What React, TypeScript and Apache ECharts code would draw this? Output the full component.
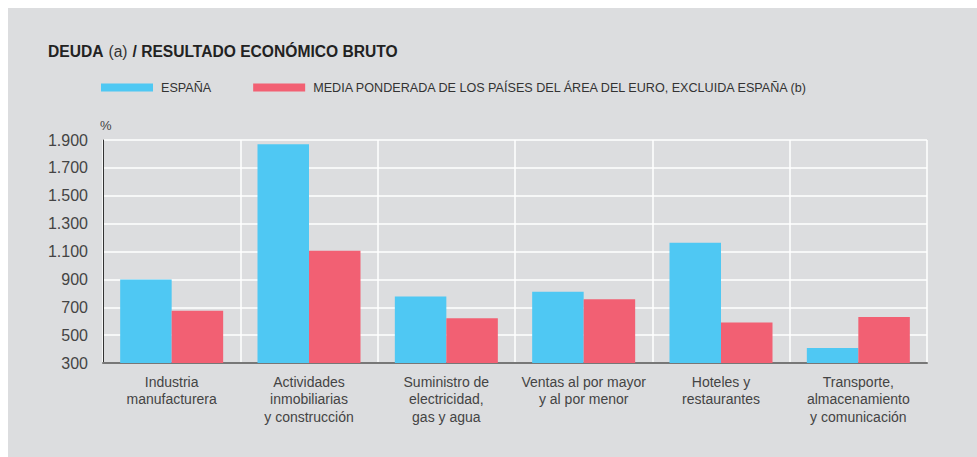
import React, { useEffect, useRef } from "react";
import * as echarts from "echarts";

const categories = [
  "Industria\nmanufacturera",
  "Actividades\ninmobiliarias\ny construcción",
  "Suministro de\nelectricidad,\ngas y agua",
  "Ventas al por mayor\ny al por menor",
  "Hoteles y\nrestaurantes",
  "Transporte,\nalmacenamiento\ny comunicación",
];
const espana = [900, 1870, 778, 812, 1162, 408];
const mediaEuro = [674, 1106, 621, 758, 590, 630];
const seriesNames = [
  "ESPAÑA",
  "MEDIA PONDERADA DE LOS PAÍSES DEL ÁREA DEL EURO, EXCLUIDA ESPAÑA (b)",
];
const yTicks = { min: 300, max: 1900, interval: 200 };

const FONT = "'Liberation Sans', Arial, sans-serif";

export default function App() {
  const ref = useRef<HTMLDivElement>(null);
  useEffect(() => {
    if (!ref.current) return;
    const chart = echarts.init(ref.current, undefined, { renderer: "svg" });
    chart.setOption({
      animation: false,
      backgroundColor: "#dcdddf",
      textStyle: { fontFamily: FONT },
      title: {
        left: 40,
        top: 34,
        padding: 0,
        text: "{b|DEUDA} {n|(a)} {b|/ RESULTADO ECONÓMICO BRUTO}",
        textStyle: {
          rich: {
            b: { fontFamily: FONT, fontWeight: "bold", fontSize: 15.6, color: "#222" },
            n: { fontFamily: FONT, fontWeight: "normal", fontSize: 15.6, color: "#333" },
          },
        },
      },
      legend: {
        left: 93,
        top: 73,
        padding: 0,
        itemWidth: 52,
        itemHeight: 8,
        itemGap: 42,
        icon: "rect",
        data: seriesNames,
        textStyle: { fontFamily: FONT, fontSize: 12.6, color: "#333", padding: [0, 0, 0, 3] },
      },
      graphic: [
        {
          type: "text",
          left: 92,
          top: 111,
          style: { text: "%", fontFamily: FONT, fontSize: 13, fill: "#444" },
        },
      ],
      grid: { left: 95, right: 50, top: 132, bottom: 94 },
      xAxis: {
        type: "category",
        data: categories,
        axisTick: { show: false },
        axisLine: { show: true, lineStyle: { color: "#777", width: 2 } },
        splitLine: { show: true, lineStyle: { color: "#ffffff", width: 1.5 } },
        axisLabel: {
          interval: 0,
          margin: 10,
          fontFamily: FONT,
          fontSize: 14,
          lineHeight: 17.5,
          color: "#444",
          align: "center",
        },
      },
      yAxis: {
        type: "value",
        min: yTicks.min,
        max: yTicks.max,
        interval: yTicks.interval,
        axisLine: { show: true, lineStyle: { color: "#333", width: 1 } },
        axisTick: { show: false },
        splitLine: { show: true, lineStyle: { color: "#ffffff", width: 1.5 } },
        axisLabel: {
          margin: 15,
          fontFamily: FONT,
          fontSize: 16,
          color: "#444",
          formatter: (v: number) => v.toLocaleString("de-DE"),
        },
      },
      series: [
        {
          name: seriesNames[0],
          type: "bar",
          data: espana,
          barGap: "0%",
          barCategoryGap: "25%",
          itemStyle: { color: "#4fc8f3" },
        },
        {
          name: seriesNames[1],
          type: "bar",
          data: mediaEuro,
          barGap: "0%",
          barCategoryGap: "25%",
          itemStyle: { color: "#f26073" },
        },
      ],
    });
    return () => chart.dispose();
  }, []);
  return (
    <div
      ref={ref}
      style={{ position: "absolute", left: 8, top: 8, width: 969, height: 449 }}
    />
  );
}
